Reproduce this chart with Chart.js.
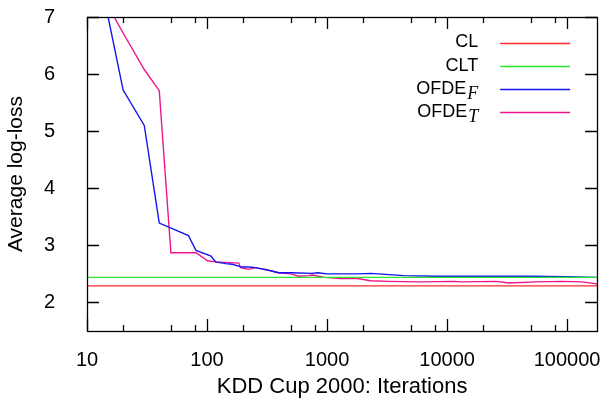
<!DOCTYPE html>
<html>
<head>
<meta charset="utf-8">
<script src="https://cdn.jsdelivr.net/npm/chart.js@4"></script>
<style>
  html, body { margin: 0; padding: 0; background: #fff; }
  #wrap { width: 610px; height: 401px; }
</style>
</head>
<body>
<div id="wrap"><canvas id="chart" width="610" height="401"></canvas></div>
<script>
// x ticks (labelled decades and small unlabelled marks)
const xMajorTicks = [10, 100, 1000, 10000, 100000];
const xMinorTicks = [20, 50, 80, 200, 500, 800, 2000, 5000, 8000, 20000, 50000, 80000];
const yTicks = [2, 3, 4, 5, 6, 7];

const seriesNames = ['CL', 'CLT', 'OFDE', 'OFDE'];
const seriesSubs = ['', '', 'F', 'T'];
const seriesColors = ['#ff2a2a', '#2ee82e', '#1414f0', '#f0148c'];

const clIter = [10, 178000];
const clLoss = [2.29, 2.29];

const cltIter = [10, 178000];
const cltLoss = [2.44, 2.44];

const ofdeFIter = [10, 20, 30, 40, 70, 81, 108, 118, 143, 162, 196, 223, 253, 347, 394, 507, 741, 841, 1000, 1800, 2300, 4370, 8200, 20000, 50000, 100000, 178000];
const ofdeFLoss = [8.8, 5.72, 5.10, 3.39, 3.17, 2.91, 2.81, 2.71, 2.68, 2.67, 2.62, 2.62, 2.61, 2.55, 2.52, 2.52, 2.51, 2.52, 2.50, 2.50, 2.51, 2.47, 2.46, 2.46, 2.46, 2.45, 2.44];

const ofdeTIter = [10, 20, 30, 40, 50, 81, 101, 118, 184, 190, 223, 253, 305, 394, 505, 575, 700, 760, 950, 1300, 1800, 2300, 3200, 6000, 11300, 13200, 25600, 33000, 54800, 90900, 133000, 171000, 178000];
const ofdeTLoss = [7.85, 6.72, 6.08, 5.71, 2.87, 2.87, 2.73, 2.71, 2.69, 2.61, 2.58, 2.61, 2.58, 2.52, 2.50, 2.46, 2.47, 2.48, 2.44, 2.42, 2.42, 2.38, 2.37, 2.36, 2.37, 2.36, 2.37, 2.34, 2.36, 2.37, 2.36, 2.33, 2.32];

const toPoints = (xs, ys) => xs.map((x, i) => ({ x, y: ys[i] }));

const seriesData = [
  toPoints(clIter, clLoss),
  toPoints(cltIter, cltLoss),
  toPoints(ofdeFIter, ofdeFLoss),
  toPoints(ofdeTIter, ofdeTLoss)
];

const font = 'Liberation Sans, Arial, Helvetica, sans-serif';

// gnuplot style frame with inward tick marks on all four sides
const frame = {
  id: 'frame',
  afterDatasetsDraw: (chart) => {
    const { ctx, chartArea: a } = chart;
    const x = chart.scales.x;
    const y = chart.scales.y;
    ctx.save();
    ctx.strokeStyle = '#000';
    ctx.lineWidth = 1.3;
    ctx.beginPath();
    x.ticks.forEach((t) => {
      const px = Math.round(x.getPixelForValue(t.value)) + 0.5;
      const len = xMajorTicks.includes(t.value) ? 12 : 6;
      ctx.moveTo(px, a.bottom); ctx.lineTo(px, a.bottom - len);
      ctx.moveTo(px, a.top); ctx.lineTo(px, a.top + len);
    });
    y.ticks.forEach((t) => {
      const py = Math.round(y.getPixelForValue(t.value)) + 0.5;
      ctx.moveTo(a.left, py); ctx.lineTo(a.left + 12, py);
      ctx.moveTo(a.right, py); ctx.lineTo(a.right - 12, py);
    });
    ctx.stroke();
    ctx.strokeRect(Math.round(a.left) + 0.5, Math.round(a.top) + 0.5,
      Math.round(a.right - a.left), Math.round(a.bottom - a.top));
    ctx.restore();
  }
};

// key in the upper right, labels right aligned with subscripts
const key = {
  id: 'key',
  afterDatasetsDraw: (chart) => {
    const { ctx, chartArea: a } = chart;
    const textRight = a.right - 119;
    ctx.save();
    seriesNames.forEach((name, i) => {
      const yy = a.top + 25.5 + i * 23.2;
      let right = textRight;
      ctx.textBaseline = 'middle';
      ctx.textAlign = 'right';
      ctx.fillStyle = '#000';
      if (seriesSubs[i]) {
        ctx.font = 'italic 18px "Liberation Serif", "Times New Roman", serif';
        ctx.fillText(seriesSubs[i], right, yy + 5);
        right -= ctx.measureText(seriesSubs[i]).width + 1;
      }
      ctx.font = '18px ' + font;
      ctx.fillText(name, right, yy);
      ctx.strokeStyle = seriesColors[i];
      ctx.lineWidth = 1.4;
      ctx.beginPath();
      ctx.moveTo(a.right - 97, Math.round(yy) + 0.5);
      ctx.lineTo(a.right - 27, Math.round(yy) + 0.5);
      ctx.stroke();
    });
    ctx.restore();
  }
};

new Chart(document.getElementById('chart'), {
  type: 'scatter',
  data: {
    datasets: seriesData.map((d, i) => ({
      label: seriesNames[i] + seriesSubs[i],
      data: d,
      showLine: true,
      borderColor: seriesColors[i],
      backgroundColor: seriesColors[i],
      borderWidth: 1.4,
      pointRadius: 0,
      tension: 0
    }))
  },
  options: {
    responsive: false,
    animation: false,
    layout: { padding: { left: 0, right: 9, top: 17, bottom: 0 } },
    plugins: {
      legend: { display: false },
      tooltip: { enabled: false }
    },
    scales: {
      x: {
        type: 'logarithmic',
        min: 10,
        max: 178000,
        afterBuildTicks: (s) => {
          s.ticks = [...xMajorTicks, ...xMinorTicks].sort((p, q) => p - q).map((v) => ({ value: v }));
        },
        afterFit: (s) => {
          s.height = 70;
          s.paddingTop = 0;
          s.paddingBottom = 0;
        },
        grid: { display: false },
        border: { display: false },
        ticks: {
          autoSkip: false,
          maxRotation: 0,
          padding: 9,
          color: '#000',
          font: { family: font, size: 20 },
          callback: (v) => (xMajorTicks.includes(v) ? String(v) : '')
        },
        title: {
          display: true,
          text: 'KDD Cup 2000: Iterations',
          color: '#000',
          font: { family: font, size: 22 },
          padding: { top: 0, bottom: 1 }
        }
      },
      y: {
        min: 1.5,
        max: 7,
        afterBuildTicks: (s) => { s.ticks = yTicks.map((v) => ({ value: v })); },
        afterFit: (s) => {
          s.width = 87;
          s.paddingTop = 0;
          s.paddingBottom = 0;
        },
        grid: { display: false },
        border: { display: false },
        ticks: {
          padding: 24,
          color: '#000',
          font: { family: font, size: 20 }
        },
        title: {
          display: true,
          text: 'Average log-loss',
          color: '#000',
          font: { family: font, size: 21 },
          padding: { top: 4, bottom: 0 }
        }
      }
    }
  },
  plugins: [frame, key]
});
</script>
</body>
</html>
